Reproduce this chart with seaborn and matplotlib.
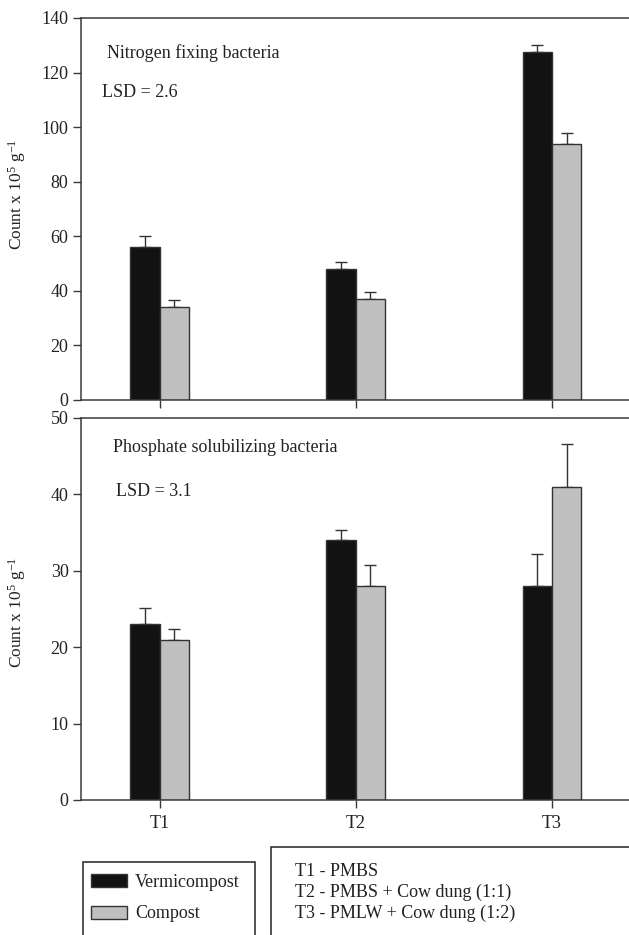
import matplotlib
matplotlib.use("Agg")
import matplotlib.pyplot as plt
import seaborn as sns
import pandas as pd
import numpy as np
from matplotlib.patches import Rectangle

# ---- data ----
treatments = ["T1", "T2", "T3"]
series = ["Vermicompost", "Compost"]

nfb_verm = [56, 48, 127.4]
nfb_verm_err = [4.1, 2.6, 2.6]
nfb_comp = [34, 37, 94]
nfb_comp_err = [2.6, 2.6, 4.0]

psb_verm = [23, 34, 28]
psb_verm_err = [2.1, 1.4, 4.2]
psb_comp = [21, 28, 41]
psb_comp_err = [1.4, 2.8, 5.6]

panel_titles = ["Nitrogen fixing bacteria", "Phosphate solubilizing bacteria"]
lsd_texts = ["LSD = 2.6", "LSD = 3.1"]
key_lines = ["T1 - PMBS", "T2 - PMBS + Cow dung (1:1)", "T3 - PMLW + Cow dung (1:2)"]
ylabel = r"Count x 10$^{5}$ g$^{-1}$"

colors = {"Vermicompost": "#121212", "Compost": "#c0c0c0"}

sns.set_style("white")
plt.rcParams["font.family"] = ["Liberation Serif", "DejaVu Serif"]
plt.rcParams["mathtext.fontset"] = "custom"
plt.rcParams["mathtext.rm"] = "Liberation Serif"
plt.rcParams["mathtext.it"] = "Liberation Serif:italic"
FS = 13
TXT = "#222222"

fig = plt.figure(figsize=(6.29, 9.35), dpi=100)
H = 935.0
W = 629.0
left = 81 / W
width = 1.0 - left + 1.5 / W
ax1 = fig.add_axes([left, 1 - 400 / H, width, 382 / H])
ax2 = fig.add_axes([left, 1 - 800 / H, width, 382 / H])

def make_df(v, c):
    return pd.DataFrame({
        "Treatment": treatments * 2,
        "Series": [series[0]] * 3 + [series[1]] * 3,
        "Value": list(v) + list(c),
    })

panels = [
    (ax1, nfb_verm, nfb_verm_err, nfb_comp, nfb_comp_err, 140, 20, 0.539),
    (ax2, psb_verm, psb_verm_err, psb_comp, psb_comp_err, 50, 10, 0.49),
]

spine_col = "#3a3a3a"
for ax, v, ve, c, ce, ymax, step, ly in panels:
    df = make_df(v, c)
    sns.barplot(data=df, x="Treatment", y="Value", hue="Series", order=treatments,
                hue_order=series, palette=colors, width=0.3, errorbar=None,
                edgecolor="#333333", linewidth=1.0, ax=ax, legend=False, zorder=2)
    errs = list(ve) + list(ce)
    vals = list(v) + list(c)
    bars = list(ax.patches)[:6]
    for p, val, e in zip(bars, vals, errs):
        xc = p.get_x() + p.get_width() / 2
        ax.errorbar(xc, val, yerr=[[0], [e]], fmt="none", ecolor="#333333",
                    elinewidth=1.0, capsize=4.3, capthick=1.0, zorder=1)
    ax.set_xlim(-0.4, 2.4)
    ax.set_ylim(0, ymax)
    ax.set_yticks(np.arange(0, ymax + 1, step))
    ax.set_xlabel("")
    ax.set_ylabel(ylabel, fontsize=12.5, color=TXT)
    ax.yaxis.set_label_coords((28 - 81) / 548, ly)
    for s in ["left", "bottom", "top"]:
        ax.spines[s].set_color(spine_col)
        ax.spines[s].set_linewidth(1.1)
    ax.spines["right"].set_visible(False)
    ax.tick_params(axis="both", direction="out", length=6, width=1.0, color=spine_col,
                   labelsize=FS, labelcolor=TXT)
    ax.tick_params(axis="y", left=True, pad=3)
    ax.tick_params(axis="x", bottom=True, pad=5)
    ax.set_facecolor("white")

ax1.set_xticklabels([])

# panel annotations
ax1.text((107 - 81) / 548, 1 - (53 - 18) / 382, panel_titles[0], transform=ax1.transAxes,
         fontsize=FS, va="center", ha="left", color=TXT)
ax1.text((102 - 81) / 548, 1 - (93 - 18) / 382, lsd_texts[0], transform=ax1.transAxes,
         fontsize=FS, va="center", ha="left", color=TXT)
ax2.text((113 - 81) / 548, 1 - (448 - 418) / 382, panel_titles[1], transform=ax2.transAxes,
         fontsize=FS, va="center", ha="left", color=TXT)
ax2.text((116 - 81) / 548, 1 - (492 - 418) / 382, lsd_texts[1], transform=ax2.transAxes,
         fontsize=FS, va="center", ha="left", color=TXT)

# legend box (left)
fig.add_artist(Rectangle((83 / W, -0.02), (255 - 83) / W, 0.02 + (935 - 862) / H,
                         transform=fig.transFigure, fill=False, edgecolor="#222222",
                         linewidth=1.1))
handles = [Rectangle((0, 0), 1, 1, facecolor=colors[s], edgecolor="#333333", linewidth=1.0)
           for s in series]
fig.legend(handles, series, loc="upper left", bbox_to_anchor=(91 / W, 1 - 874 / H),
           frameon=False, fontsize=FS, handlelength=2.0, handleheight=0.72,
           handletextpad=0.45, labelspacing=0.8, borderpad=0.0, borderaxespad=0.0,
           labelcolor=TXT)

# key box (right)
fig.add_artist(Rectangle((271 / W, -0.02), 1.0, 0.02 + (935 - 847) / H,
                         transform=fig.transFigure, fill=False, edgecolor="#222222",
                         linewidth=1.1))
for k, yc in zip(key_lines, [871, 892, 913]):
    fig.text(295 / W, 1 - yc / H, k, fontsize=FS, va="center", ha="left", color=TXT)

fig.savefig("out.png", dpi=100, facecolor="white")
